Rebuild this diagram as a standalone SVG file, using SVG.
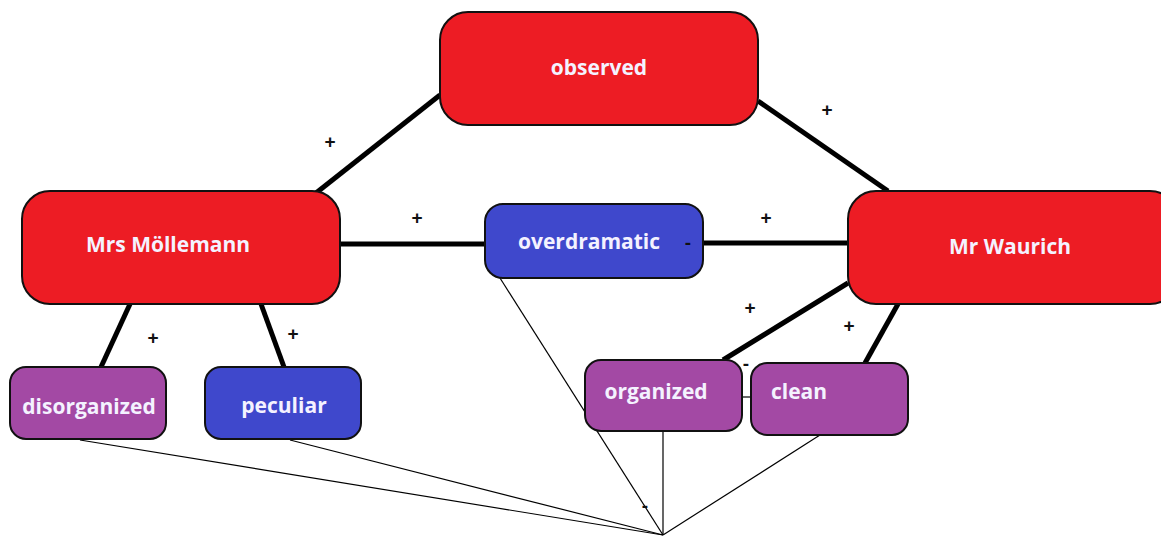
<svg xmlns="http://www.w3.org/2000/svg" width="1161" height="536" viewBox="0 0 1161 536">
<style>
.red{fill:#ed1c24;stroke:#111;stroke-width:2}
.blue{fill:#3f48cc;stroke:#111;stroke-width:2}
.purple{fill:#a349a4;stroke:#111;stroke-width:2}
.lbl{font-family:"Open Sans","Liberation Sans",sans-serif;font-weight:700;font-size:21px;fill:#f4f2ff;text-anchor:middle}
.thick{stroke:#000;stroke-width:5;fill:none}
.thin{stroke:#000;stroke-width:1.2;fill:none}
.sign{font-family:"Liberation Sans",sans-serif;font-weight:700;font-size:19px;fill:#111;text-anchor:middle}
</style>
<rect width="1161" height="536" fill="#fff"/>
<g id="connectors">
<line class="thick" x1="440" y1="95" x2="316" y2="193"/>
<line class="thick" x1="758" y1="101" x2="888" y2="191"/>
<line class="thick" x1="340" y1="244" x2="485" y2="244"/>
<line class="thick" x1="703" y1="243" x2="848" y2="243"/>
<line class="thick" x1="130" y1="304" x2="101" y2="367"/>
<line class="thick" x1="261" y1="304" x2="284" y2="367"/>
<line class="thick" x1="848" y1="283" x2="723" y2="360"/>
<line class="thick" x1="898" y1="304" x2="865" y2="363"/>
<line class="thin" x1="742" y1="397" x2="751" y2="397"/>
<line class="thin" x1="80" y1="440" x2="663" y2="535"/>
<line class="thin" x1="290" y1="440" x2="663" y2="535"/>
<line class="thin" x1="500" y1="278" x2="663" y2="535"/>
<line class="thin" x1="663" y1="431" x2="663" y2="535"/>
<line class="thin" x1="820" y1="435" x2="663" y2="535"/>
</g>
<g id="observed"><rect class="red" x="440" y="12" width="318" height="113" rx="28"/><text class="lbl" x="599" y="75">observed</text></g>
<g id="mrs-moellemann"><rect class="red" x="22" y="191" width="318" height="113" rx="28"/><text class="lbl" x="168" y="252">Mrs Möllemann</text></g>
<g id="overdramatic"><rect class="blue" x="485" y="204" width="218" height="74" rx="18"/><text class="lbl" x="589" y="249">overdramatic</text></g>
<g id="mr-waurich"><rect class="red" x="848" y="191" width="330" height="113" rx="28"/><text class="lbl" x="1010" y="254">Mr Waurich</text></g>
<g id="disorganized"><rect class="purple" x="10" y="367" width="156" height="72" rx="16"/><text class="lbl" x="89" y="414">disorganized</text></g>
<g id="peculiar"><rect class="blue" x="205" y="367" width="156" height="72" rx="16"/><text class="lbl" x="284" y="413">peculiar</text></g>
<g id="organized"><rect class="purple" x="585" y="360" width="157" height="71" rx="16"/><text class="lbl" x="656" y="399">organized</text></g>
<g id="clean"><rect class="purple" x="751" y="363" width="157" height="72" rx="16"/><text class="lbl" x="799" y="399">clean</text></g>
<g id="signs">
<text class="sign" x="330" y="148">+</text>
<text class="sign" x="827" y="116">+</text>
<text class="sign" x="417" y="224">+</text>
<text class="sign" x="766" y="224">+</text>
<text class="sign" x="153" y="344">+</text>
<text class="sign" x="293" y="340">+</text>
<text class="sign" x="750" y="314">+</text>
<text class="sign" x="849" y="332">+</text>
<text class="sign" x="688" y="249">-</text>
<text class="sign" x="746" y="370">-</text>
<text class="sign" x="645" y="512">-</text>
</g>
</svg>
